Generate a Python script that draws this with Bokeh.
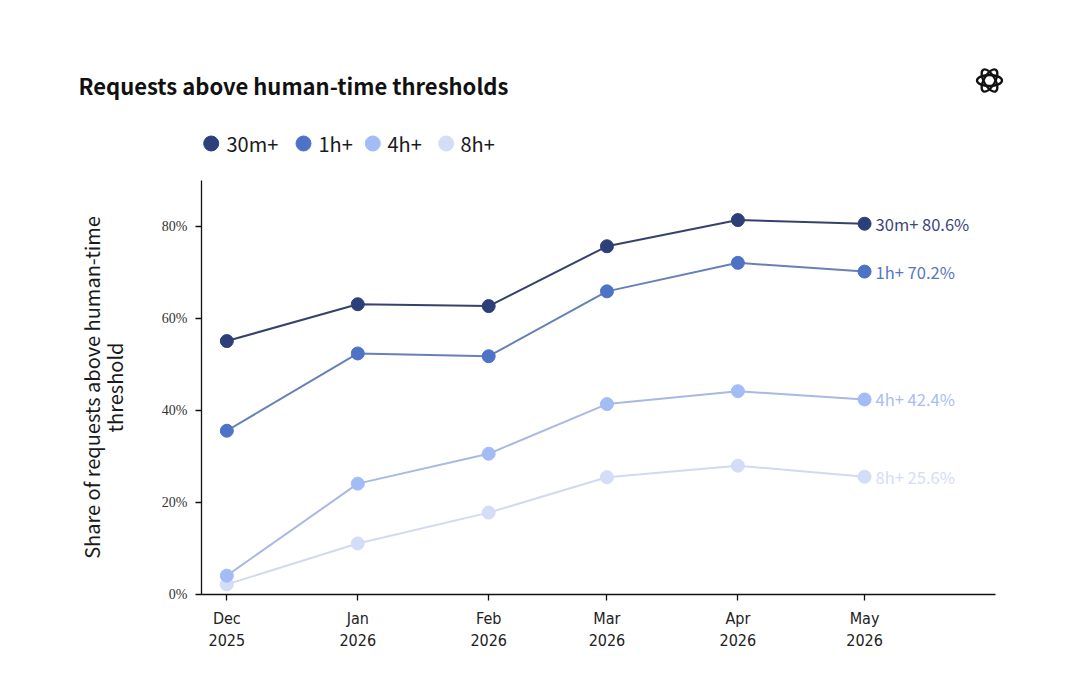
from datetime import datetime
from bokeh.plotting import figure
from bokeh.models import (Range1d, FixedTicker, DatetimeTickFormatter, PrintfTickFormatter, Label)
from bokeh.embed import file_html
from bokeh.resources import INLINE
from bokeh.core.properties import value

# ---------------- data ----------------
months = [datetime(2025, 12, 1), datetime(2026, 1, 1), datetime(2026, 2, 1),
          datetime(2026, 3, 1), datetime(2026, 4, 1), datetime(2026, 5, 1)]
series_names = ["30m+", "1h+", "4h+", "8h+"]
share_30m = [55.1, 63.1, 62.7, 75.7, 81.4, 80.6]
share_1h = [35.6, 52.4, 51.8, 65.9, 72.1, 70.2]
share_4h = [4.1, 24.1, 30.6, 41.4, 44.2, 42.4]
share_8h = [2.2, 11.1, 17.8, 25.5, 28.0, 25.6]
y_ticks = [0, 20, 40, 60, 80]
title_text = "Requests above human-time thresholds"
y_label = "Share of requests above human-time\nthreshold"

# ---------------- styles / layout ----------------
marker_colors = ["#2c3f78", "#4e73c6", "#a4bcf6", "#d3ddf6"]
line_colors = ["#36426c", "#6680ba", "#a8b9e2", "#d2daf0"]
label_colors = ["#3a4778", "#5676c0", "#a9bdf2", "#d5ddf4"]
SANS = "Noto Sans CJK SC"

W = 1064
HEADER_H = 170
MAIN_H = 505
legend_dot_x = [210.7, 303.0, 372.3, 445.7]   # header pixel positions
legend_text_x = [226.0, 318.0, 387.0, 460.0]
legend_y = 143


def ms(d):
    return (d - datetime(1970, 1, 1)).total_seconds() * 1000.0


# ---------------- header (title + logo + legend) ----------------
hdr = figure(width=W, height=HEADER_H, x_range=Range1d(0, W), y_range=Range1d(HEADER_H, 0),
             toolbar_location=None, output_backend="svg", min_border=0,
             outline_line_color=None)
hdr.axis.visible = False
hdr.grid.visible = False
hdr.add_layout(Label(x=78, y=84, text=title_text, text_font=SANS, text_font_style="bold",
                     text_font_size="22px", text_color="#111111", text_baseline="middle"))
hdr.ellipse(x=[989, 989, 989], y=[80, 80, 80], width=[25, 25, 25], height=[11, 11, 11],
            angle=[0, 1.0472, 2.0944], fill_alpha=0, line_color="#111111", line_width=2.3)
hdr.scatter(x=legend_dot_x, y=[legend_y] * 4, size=15, fill_color=marker_colors,
            line_color=marker_colors)
hdr.text(x=legend_text_x, y=[legend_y] * 4, text=series_names, text_baseline="middle",
         text_align="left", text_font=value(SANS), text_font_size="20px", text_color="#1a1a1a")

# ---------------- main chart ----------------
p = figure(width=W, height=MAIN_H, x_axis_type="datetime",
           x_range=Range1d(datetime(2025, 11, 25), datetime(2026, 6, 1)),
           y_range=Range1d(0, 90),
           toolbar_location=None, output_backend="svg",
           min_border_left=201, min_border_right=69, min_border_top=10, min_border_bottom=81,
           outline_line_color=None)
p.grid.visible = False

series = [share_30m, share_1h, share_4h, share_8h]
for i in reversed(range(4)):
    vals = series[i]
    p.line(months, vals, line_color=line_colors[i], line_width=2)
    p.scatter(months, vals, size=13, fill_color=marker_colors[i], line_color=marker_colors[i])
    p.text(x=[months[-1]], y=[vals[-1]], text=[f"{series_names[i]} {vals[-1]:.1f}%"],
           x_offset=11, text_baseline="middle", text_align="left",
           text_font=value(SANS), text_font_size="16.5px", text_color=label_colors[i])

# x axis
p.xaxis.ticker = FixedTicker(ticks=[ms(m) for m in months])
fmt = "%b\n%Y"
p.xaxis.formatter = DatetimeTickFormatter(microseconds=fmt, milliseconds=fmt, seconds=fmt,
                                          minsec=fmt, minutes=fmt, hourmin=fmt, hours=fmt,
                                          days=fmt, months=fmt, years=fmt)
p.xaxis.major_label_text_font = "DejaVu Sans Condensed, Liberation Sans Narrow, DejaVu Sans"
p.xaxis.major_label_text_font_size = "16px"
p.xaxis.major_label_text_color = "#222222"
p.xaxis.major_label_standoff = 8

# y axis
p.yaxis.ticker = FixedTicker(ticks=y_ticks)
p.yaxis.formatter = PrintfTickFormatter(format="%d%%")
p.yaxis.major_label_text_font = "Liberation Serif"
p.yaxis.major_label_text_font_size = "14px"
p.yaxis.major_label_text_color = "#333333"
p.yaxis.major_label_standoff = 8
p.yaxis.axis_label = y_label
p.yaxis.axis_label_text_font = SANS
p.yaxis.axis_label_text_font_size = "20px"
p.yaxis.axis_label_text_font_style = "normal"
p.yaxis.axis_label_text_line_height = 0.8
p.yaxis.axis_label_text_color = "#1a1a1a"
p.yaxis.axis_label_standoff = 30

for ax in (p.xaxis, p.yaxis):
    ax.axis_line_color = "#111111"
    ax.axis_line_width = 1.3
    ax.major_tick_line_color = "#111111"
    ax.major_tick_line_width = 1.3
    ax.major_tick_out = 6
    ax.major_tick_in = 0
    ax.minor_tick_line_color = None

open("out.html", "w").write(file_html([hdr, p], INLINE))
